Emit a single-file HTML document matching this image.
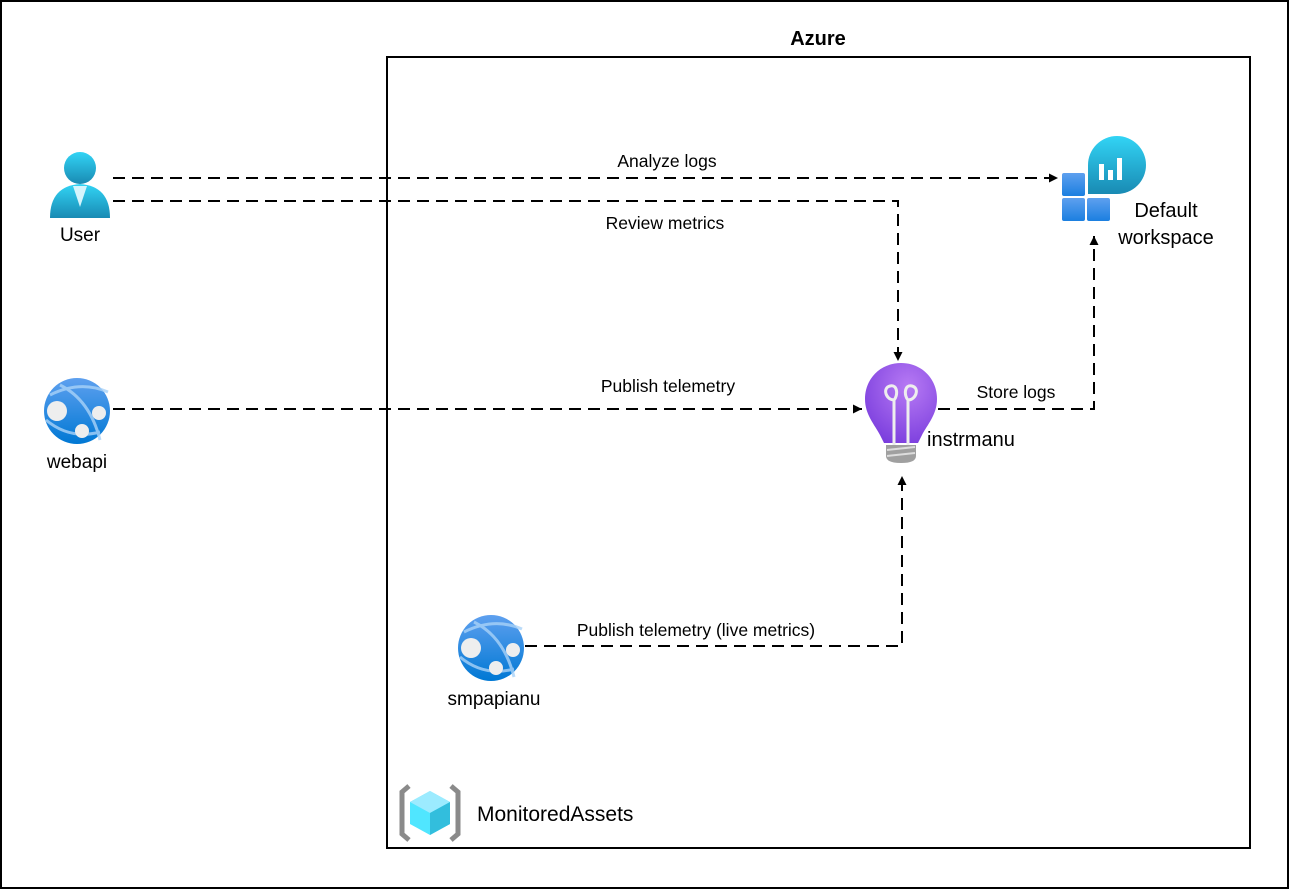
<!DOCTYPE html>
<html><head><meta charset="utf-8"><style>
html,body{margin:0;padding:0;background:#fff}
svg{display:block}
text{font-family:"Liberation Sans",sans-serif;font-size:17.5px;fill:#000}
</style></head><body>
<svg width="1289" height="890" viewBox="0 0 1289 890" xmlns="http://www.w3.org/2000/svg">
<defs>
<marker id="a" markerWidth="10" markerHeight="10" refX="9" refY="5" orient="auto" markerUnits="userSpaceOnUse">
<path d="M0,0.5 L9,5 L0,9.5 z" fill="#000"/></marker>
<linearGradient id="ug" x1="0" y1="0" x2="0" y2="1"><stop offset="0" stop-color="#32d4f5"/><stop offset="1" stop-color="#198ab3"/></linearGradient>
<linearGradient id="gg" x1="0" y1="0" x2="0" y2="1"><stop offset="0" stop-color="#5ea0ef"/><stop offset="1" stop-color="#0078d4"/></linearGradient>
<radialGradient id="bg" cx="0.6" cy="0.3" r="0.8"><stop offset="0" stop-color="#b77af4"/><stop offset="1" stop-color="#773adc"/></radialGradient>
<linearGradient id="wg" x1="0" y1="0" x2="0" y2="1"><stop offset="0" stop-color="#32d4f5"/><stop offset="1" stop-color="#198ab3"/></linearGradient>
<linearGradient id="sq" x1="0" y1="0" x2="0" y2="1"><stop offset="0" stop-color="#5ea0ef"/><stop offset="1" stop-color="#1b7fe0"/></linearGradient>
</defs>
<rect x="1" y="1" width="1287" height="887" fill="#fff" stroke="#000" stroke-width="2"/>
<rect x="387" y="57" width="863" height="791" fill="none" stroke="#000" stroke-width="2"/>
<text x="818" y="45" text-anchor="middle" font-weight="bold" style="font-size:20px">Azure</text>

<g fill="none" stroke="#000" stroke-width="2" stroke-dasharray="12,7">
<path d="M113,178 H1058" marker-end="url(#a)"/>
<path d="M113,201 H898 V361" marker-end="url(#a)"/>
<path d="M113,409 H862" marker-end="url(#a)"/>
<path d="M938,409 H1094 V236" marker-end="url(#a)"/>
<path d="M525,646 H902 V476" marker-end="url(#a)"/>
</g>
<text x="667" y="167" text-anchor="middle">Analyze logs</text>
<text x="665" y="229" text-anchor="middle">Review metrics</text>
<text x="668" y="392" text-anchor="middle">Publish telemetry</text>
<text x="1016" y="398" text-anchor="middle">Store logs</text>
<text x="696" y="636" text-anchor="middle">Publish telemetry (live metrics)</text>

<!-- User -->
<circle cx="80" cy="168" r="16" fill="url(#ug)"/>
<path d="M50,218 Q50,186 80,184 Q110,186 110,218 Z" fill="url(#ug)"/>
<path d="M73,186 L80,207 L87,186 Z" fill="#d4f4fc"/>
<text x="80" y="241" text-anchor="middle" style="font-size:19px">User</text>

<!-- globes -->
<g id="gl">
<circle cx="77" cy="411" r="33" fill="url(#gg)"/>
<path d="M50,395 Q80,380 108,392 M60,385 Q90,400 100,440 M46,420 Q70,440 100,432" stroke="#a9d2f7" stroke-width="3" fill="none" opacity="0.8"/>
<circle cx="57" cy="411" r="10" fill="#eee"/>
<circle cx="99" cy="413" r="7" fill="#eee"/>
<circle cx="82" cy="431" r="7" fill="#eee"/>
</g>
<text x="77" y="468" text-anchor="middle" style="font-size:19px">webapi</text>
<use href="#gl" transform="translate(414,237)"/>
<text x="494" y="705" text-anchor="middle" style="font-size:19px">smpapianu</text>

<!-- bulb -->
<path d="M901,363 C880,363 865,379 865,399 C865,415 875,425 880,435 L884,443 H918 L922,435 C927,425 937,415 937,399 C937,379 922,363 901,363 Z" fill="url(#bg)"/>
<path d="M894,445 V400 M908,445 V400 M894,400 C886,400 882,388 890,386 C898,384 898,396 894,400 M908,400 C916,400 920,388 912,386 C904,384 904,396 908,400" stroke="#eee" stroke-width="3" fill="none"/>
<path d="M886,445 H916 V456 Q916,463 901,463 Q886,463 886,456 Z" fill="#a0a0a0"/>
<path d="M887,450 L915,447 M887,456 L915,453" stroke="#ddd" stroke-width="2"/>
<text x="927" y="446" style="font-size:20px">instrmanu</text>

<!-- workspace -->
<path d="M1088,165 A29,29 0 1 1 1117,194 H1088 Z" fill="url(#wg)"/>
<rect x="1099" y="164" width="5" height="16" fill="#fff"/>
<rect x="1108" y="170" width="5" height="10" fill="#fff"/>
<rect x="1117" y="158" width="5" height="22" fill="#fff"/>
<rect x="1062" y="173" width="23" height="23" rx="2" fill="url(#sq)"/>
<rect x="1062" y="198" width="23" height="23" rx="2" fill="url(#sq)"/>
<rect x="1087" y="198" width="23" height="23" rx="2" fill="url(#sq)"/>
<text x="1166" y="217" text-anchor="middle" style="font-size:20px">Default</text>
<text x="1166" y="244" text-anchor="middle" style="font-size:20px">workspace</text>

<!-- monitored assets -->
<path d="M409,786 L402,792 V834 L409,840" stroke="#8a8a8a" stroke-width="5" fill="none"/>
<path d="M451,786 L458,792 V834 L451,840" stroke="#8a8a8a" stroke-width="5" fill="none"/>
<path d="M430,791 L450,802 L450,824 L430,835 L410,824 L410,802 Z" fill="#50e6ff"/>
<path d="M430,791 L450,802 L430,813 L410,802 Z" fill="#9cebff"/>
<path d="M430,813 L450,802 L450,824 L430,835 Z" fill="#32bedd"/>
<text x="477" y="821" style="font-size:21px">MonitoredAssets</text>
</svg>
</body></html>
